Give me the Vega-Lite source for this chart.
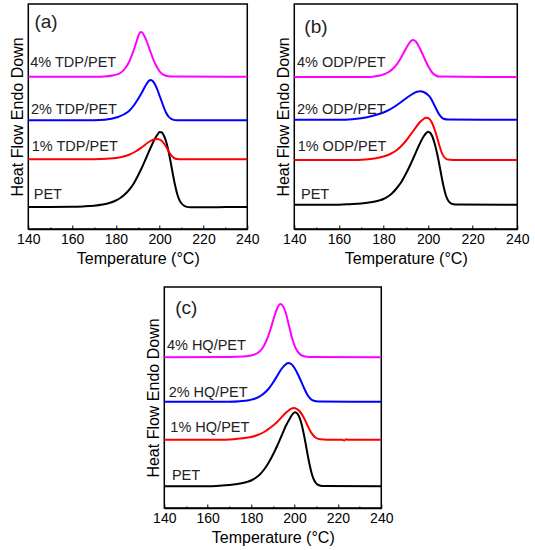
{
  "$schema": "https://vega.github.io/schema/vega-lite/v6.json",
  "padding": {"left": 8, "top": 3, "right": 5, "bottom": 5},
  "config": {
    "font": "Liberation Sans",
    "view": {"stroke": "black", "strokeWidth": 1.5},
    "axis": {
      "grid": false,
      "labelFontSize": 14,
      "titleFontSize": 16,
      "titleFontWeight": "normal",
      "labelColor": "black",
      "titleColor": "black",
      "domainColor": "black",
      "tickColor": "black"
    },
    "line": {"strokeWidth": 2, "interpolate": "monotone"},
    "text": {"color": "#222222"}
  },
  "datasets": {
    "curves": [
      {"panel": "a", "series": "PET", "T": 140, "y": 22},
      {"panel": "a", "series": "PET", "T": 150, "y": 22},
      {"panel": "a", "series": "PET", "T": 160, "y": 22.2},
      {"panel": "a", "series": "PET", "T": 165, "y": 22.6},
      {"panel": "a", "series": "PET", "T": 170, "y": 23.3},
      {"panel": "a", "series": "PET", "T": 174, "y": 24.5},
      {"panel": "a", "series": "PET", "T": 177, "y": 26},
      {"panel": "a", "series": "PET", "T": 180, "y": 28.5},
      {"panel": "a", "series": "PET", "T": 182, "y": 31},
      {"panel": "a", "series": "PET", "T": 184, "y": 34.5},
      {"panel": "a", "series": "PET", "T": 186, "y": 39},
      {"panel": "a", "series": "PET", "T": 188, "y": 45},
      {"panel": "a", "series": "PET", "T": 190, "y": 53},
      {"panel": "a", "series": "PET", "T": 192, "y": 62},
      {"panel": "a", "series": "PET", "T": 194, "y": 72},
      {"panel": "a", "series": "PET", "T": 196, "y": 82},
      {"panel": "a", "series": "PET", "T": 198, "y": 91},
      {"panel": "a", "series": "PET", "T": 199, "y": 94.5},
      {"panel": "a", "series": "PET", "T": 200, "y": 97},
      {"panel": "a", "series": "PET", "T": 201, "y": 96.5},
      {"panel": "a", "series": "PET", "T": 202, "y": 93},
      {"panel": "a", "series": "PET", "T": 203, "y": 87},
      {"panel": "a", "series": "PET", "T": 204, "y": 78},
      {"panel": "a", "series": "PET", "T": 205, "y": 67},
      {"panel": "a", "series": "PET", "T": 206, "y": 55},
      {"panel": "a", "series": "PET", "T": 207, "y": 44},
      {"panel": "a", "series": "PET", "T": 208, "y": 35},
      {"panel": "a", "series": "PET", "T": 209, "y": 29},
      {"panel": "a", "series": "PET", "T": 210, "y": 25.5},
      {"panel": "a", "series": "PET", "T": 211, "y": 23.5},
      {"panel": "a", "series": "PET", "T": 212, "y": 22.4},
      {"panel": "a", "series": "PET", "T": 214, "y": 21.8},
      {"panel": "a", "series": "PET", "T": 220, "y": 21.8},
      {"panel": "a", "series": "PET", "T": 230, "y": 21.9},
      {"panel": "a", "series": "PET", "T": 240, "y": 22},

      {"panel": "a", "series": "1%", "T": 140, "y": 69.7},
      {"panel": "a", "series": "1%", "T": 160, "y": 69.7},
      {"panel": "a", "series": "1%", "T": 170, "y": 69.8},
      {"panel": "a", "series": "1%", "T": 176, "y": 70.3},
      {"panel": "a", "series": "1%", "T": 180, "y": 71},
      {"panel": "a", "series": "1%", "T": 183, "y": 72.3},
      {"panel": "a", "series": "1%", "T": 186, "y": 74.3},
      {"panel": "a", "series": "1%", "T": 189, "y": 77.5},
      {"panel": "a", "series": "1%", "T": 192, "y": 82},
      {"panel": "a", "series": "1%", "T": 195, "y": 87},
      {"panel": "a", "series": "1%", "T": 197, "y": 89.3},
      {"panel": "a", "series": "1%", "T": 198.5, "y": 90},
      {"panel": "a", "series": "1%", "T": 200, "y": 89.3},
      {"panel": "a", "series": "1%", "T": 201, "y": 88},
      {"panel": "a", "series": "1%", "T": 202, "y": 85.5},
      {"panel": "a", "series": "1%", "T": 203, "y": 82},
      {"panel": "a", "series": "1%", "T": 204, "y": 78},
      {"panel": "a", "series": "1%", "T": 205, "y": 74.5},
      {"panel": "a", "series": "1%", "T": 206, "y": 72},
      {"panel": "a", "series": "1%", "T": 207, "y": 70.5},
      {"panel": "a", "series": "1%", "T": 208, "y": 69.9},
      {"panel": "a", "series": "1%", "T": 210, "y": 69.7},
      {"panel": "a", "series": "1%", "T": 240, "y": 69.7},

      {"panel": "a", "series": "2%", "T": 140, "y": 108.7},
      {"panel": "a", "series": "2%", "T": 160, "y": 108.7},
      {"panel": "a", "series": "2%", "T": 170, "y": 108.8},
      {"panel": "a", "series": "2%", "T": 175, "y": 109.3},
      {"panel": "a", "series": "2%", "T": 178, "y": 110.3},
      {"panel": "a", "series": "2%", "T": 181, "y": 112},
      {"panel": "a", "series": "2%", "T": 184, "y": 115},
      {"panel": "a", "series": "2%", "T": 186, "y": 118},
      {"panel": "a", "series": "2%", "T": 188, "y": 123},
      {"panel": "a", "series": "2%", "T": 190, "y": 129.5},
      {"panel": "a", "series": "2%", "T": 192, "y": 137},
      {"panel": "a", "series": "2%", "T": 194, "y": 145},
      {"panel": "a", "series": "2%", "T": 195, "y": 148},
      {"panel": "a", "series": "2%", "T": 196, "y": 149},
      {"panel": "a", "series": "2%", "T": 197, "y": 147.5},
      {"panel": "a", "series": "2%", "T": 198, "y": 144},
      {"panel": "a", "series": "2%", "T": 199, "y": 139},
      {"panel": "a", "series": "2%", "T": 200, "y": 133},
      {"panel": "a", "series": "2%", "T": 201, "y": 127},
      {"panel": "a", "series": "2%", "T": 202, "y": 121},
      {"panel": "a", "series": "2%", "T": 203, "y": 116},
      {"panel": "a", "series": "2%", "T": 204, "y": 112.5},
      {"panel": "a", "series": "2%", "T": 205, "y": 110.5},
      {"panel": "a", "series": "2%", "T": 206, "y": 109.4},
      {"panel": "a", "series": "2%", "T": 208, "y": 108.8},
      {"panel": "a", "series": "2%", "T": 240, "y": 108.7},

      {"panel": "a", "series": "4%", "T": 140, "y": 152.3},
      {"panel": "a", "series": "4%", "T": 170, "y": 152.3},
      {"panel": "a", "series": "4%", "T": 176, "y": 152.8},
      {"panel": "a", "series": "4%", "T": 179, "y": 153.8},
      {"panel": "a", "series": "4%", "T": 182, "y": 156},
      {"panel": "a", "series": "4%", "T": 184, "y": 160},
      {"panel": "a", "series": "4%", "T": 186, "y": 167},
      {"panel": "a", "series": "4%", "T": 188, "y": 178},
      {"panel": "a", "series": "4%", "T": 189.5, "y": 188},
      {"panel": "a", "series": "4%", "T": 190.5, "y": 194.5},
      {"panel": "a", "series": "4%", "T": 191.3, "y": 197},
      {"panel": "a", "series": "4%", "T": 192, "y": 196.5},
      {"panel": "a", "series": "4%", "T": 193, "y": 193},
      {"panel": "a", "series": "4%", "T": 194, "y": 188},
      {"panel": "a", "series": "4%", "T": 195, "y": 182},
      {"panel": "a", "series": "4%", "T": 196, "y": 176},
      {"panel": "a", "series": "4%", "T": 197, "y": 170},
      {"panel": "a", "series": "4%", "T": 198, "y": 165},
      {"panel": "a", "series": "4%", "T": 199, "y": 161},
      {"panel": "a", "series": "4%", "T": 200, "y": 157.5},
      {"panel": "a", "series": "4%", "T": 201, "y": 155.3},
      {"panel": "a", "series": "4%", "T": 202, "y": 154},
      {"panel": "a", "series": "4%", "T": 204, "y": 152.7},
      {"panel": "a", "series": "4%", "T": 206, "y": 152.4},
      {"panel": "a", "series": "4%", "T": 240, "y": 152.3},

      {"panel": "b", "series": "PET", "T": 140, "y": 24.3},
      {"panel": "b", "series": "PET", "T": 160, "y": 24.3},
      {"panel": "b", "series": "PET", "T": 165, "y": 24.8},
      {"panel": "b", "series": "PET", "T": 170, "y": 25.5},
      {"panel": "b", "series": "PET", "T": 175, "y": 27},
      {"panel": "b", "series": "PET", "T": 178, "y": 28.5},
      {"panel": "b", "series": "PET", "T": 180, "y": 30},
      {"panel": "b", "series": "PET", "T": 182, "y": 32.5},
      {"panel": "b", "series": "PET", "T": 184, "y": 36},
      {"panel": "b", "series": "PET", "T": 186, "y": 41},
      {"panel": "b", "series": "PET", "T": 188, "y": 47},
      {"panel": "b", "series": "PET", "T": 190, "y": 55},
      {"panel": "b", "series": "PET", "T": 192, "y": 64},
      {"panel": "b", "series": "PET", "T": 194, "y": 74},
      {"panel": "b", "series": "PET", "T": 196, "y": 84},
      {"panel": "b", "series": "PET", "T": 198, "y": 92.5},
      {"panel": "b", "series": "PET", "T": 199, "y": 95.5},
      {"panel": "b", "series": "PET", "T": 200, "y": 97.3},
      {"panel": "b", "series": "PET", "T": 201, "y": 96},
      {"panel": "b", "series": "PET", "T": 202, "y": 92},
      {"panel": "b", "series": "PET", "T": 203, "y": 85},
      {"panel": "b", "series": "PET", "T": 204, "y": 76},
      {"panel": "b", "series": "PET", "T": 205, "y": 65},
      {"panel": "b", "series": "PET", "T": 206, "y": 53},
      {"panel": "b", "series": "PET", "T": 207, "y": 42},
      {"panel": "b", "series": "PET", "T": 208, "y": 33.5},
      {"panel": "b", "series": "PET", "T": 209, "y": 28.5},
      {"panel": "b", "series": "PET", "T": 210, "y": 26},
      {"panel": "b", "series": "PET", "T": 211, "y": 25},
      {"panel": "b", "series": "PET", "T": 213, "y": 24.4},
      {"panel": "b", "series": "PET", "T": 240, "y": 24.3},

      {"panel": "b", "series": "1%", "T": 140, "y": 69},
      {"panel": "b", "series": "1%", "T": 165, "y": 69},
      {"panel": "b", "series": "1%", "T": 172, "y": 69.5},
      {"panel": "b", "series": "1%", "T": 176, "y": 70.5},
      {"panel": "b", "series": "1%", "T": 180, "y": 72.5},
      {"panel": "b", "series": "1%", "T": 183, "y": 75},
      {"panel": "b", "series": "1%", "T": 186, "y": 79},
      {"panel": "b", "series": "1%", "T": 188, "y": 83},
      {"panel": "b", "series": "1%", "T": 190, "y": 88},
      {"panel": "b", "series": "1%", "T": 192, "y": 94},
      {"panel": "b", "series": "1%", "T": 194, "y": 100},
      {"panel": "b", "series": "1%", "T": 196, "y": 106},
      {"panel": "b", "series": "1%", "T": 198, "y": 110},
      {"panel": "b", "series": "1%", "T": 199, "y": 111.3},
      {"panel": "b", "series": "1%", "T": 200, "y": 111},
      {"panel": "b", "series": "1%", "T": 201, "y": 109},
      {"panel": "b", "series": "1%", "T": 202, "y": 105},
      {"panel": "b", "series": "1%", "T": 203, "y": 99},
      {"panel": "b", "series": "1%", "T": 204, "y": 92},
      {"panel": "b", "series": "1%", "T": 205, "y": 84},
      {"panel": "b", "series": "1%", "T": 206, "y": 77},
      {"panel": "b", "series": "1%", "T": 207, "y": 72.5},
      {"panel": "b", "series": "1%", "T": 208, "y": 70.3},
      {"panel": "b", "series": "1%", "T": 209, "y": 69.4},
      {"panel": "b", "series": "1%", "T": 211, "y": 69},
      {"panel": "b", "series": "1%", "T": 240, "y": 69},

      {"panel": "b", "series": "2%", "T": 140, "y": 109.3},
      {"panel": "b", "series": "2%", "T": 160, "y": 109.3},
      {"panel": "b", "series": "2%", "T": 166, "y": 109.8},
      {"panel": "b", "series": "2%", "T": 170, "y": 110.8},
      {"panel": "b", "series": "2%", "T": 174, "y": 112.5},
      {"panel": "b", "series": "2%", "T": 178, "y": 115},
      {"panel": "b", "series": "2%", "T": 181, "y": 117.5},
      {"panel": "b", "series": "2%", "T": 184, "y": 121},
      {"panel": "b", "series": "2%", "T": 187, "y": 125.5},
      {"panel": "b", "series": "2%", "T": 190, "y": 130.5},
      {"panel": "b", "series": "2%", "T": 193, "y": 135},
      {"panel": "b", "series": "2%", "T": 195, "y": 137.2},
      {"panel": "b", "series": "2%", "T": 196.5, "y": 137.7},
      {"panel": "b", "series": "2%", "T": 198, "y": 137},
      {"panel": "b", "series": "2%", "T": 200, "y": 134},
      {"panel": "b", "series": "2%", "T": 201, "y": 131.5},
      {"panel": "b", "series": "2%", "T": 202, "y": 127.5},
      {"panel": "b", "series": "2%", "T": 203, "y": 123},
      {"panel": "b", "series": "2%", "T": 204, "y": 118.5},
      {"panel": "b", "series": "2%", "T": 205, "y": 114.5},
      {"panel": "b", "series": "2%", "T": 206, "y": 111.8},
      {"panel": "b", "series": "2%", "T": 207, "y": 110.2},
      {"panel": "b", "series": "2%", "T": 209, "y": 109.4},
      {"panel": "b", "series": "2%", "T": 240, "y": 109.3},

      {"panel": "b", "series": "4%", "T": 140, "y": 152},
      {"panel": "b", "series": "4%", "T": 172, "y": 152},
      {"panel": "b", "series": "4%", "T": 176, "y": 152.6},
      {"panel": "b", "series": "4%", "T": 179, "y": 153.8},
      {"panel": "b", "series": "4%", "T": 182, "y": 156.5},
      {"panel": "b", "series": "4%", "T": 185, "y": 162},
      {"panel": "b", "series": "4%", "T": 187, "y": 168},
      {"panel": "b", "series": "4%", "T": 189, "y": 176},
      {"panel": "b", "series": "4%", "T": 191, "y": 184},
      {"panel": "b", "series": "4%", "T": 192.3, "y": 188},
      {"panel": "b", "series": "4%", "T": 193.3, "y": 189},
      {"panel": "b", "series": "4%", "T": 194.5, "y": 187.5},
      {"panel": "b", "series": "4%", "T": 196, "y": 182},
      {"panel": "b", "series": "4%", "T": 197.5, "y": 175},
      {"panel": "b", "series": "4%", "T": 199, "y": 167.5},
      {"panel": "b", "series": "4%", "T": 200.5, "y": 161},
      {"panel": "b", "series": "4%", "T": 202, "y": 156},
      {"panel": "b", "series": "4%", "T": 203.5, "y": 153.5},
      {"panel": "b", "series": "4%", "T": 205, "y": 152.4},
      {"panel": "b", "series": "4%", "T": 240, "y": 152},

      {"panel": "c", "series": "PET", "T": 140, "y": 21.7},
      {"panel": "c", "series": "PET", "T": 160, "y": 21.7},
      {"panel": "c", "series": "PET", "T": 165, "y": 22.2},
      {"panel": "c", "series": "PET", "T": 170, "y": 23},
      {"panel": "c", "series": "PET", "T": 175, "y": 24.5},
      {"panel": "c", "series": "PET", "T": 178, "y": 26},
      {"panel": "c", "series": "PET", "T": 180, "y": 27.5},
      {"panel": "c", "series": "PET", "T": 182, "y": 30},
      {"panel": "c", "series": "PET", "T": 184, "y": 33.5},
      {"panel": "c", "series": "PET", "T": 186, "y": 38.5},
      {"panel": "c", "series": "PET", "T": 188, "y": 45},
      {"panel": "c", "series": "PET", "T": 190, "y": 53},
      {"panel": "c", "series": "PET", "T": 192, "y": 62},
      {"panel": "c", "series": "PET", "T": 194, "y": 72},
      {"panel": "c", "series": "PET", "T": 196, "y": 82},
      {"panel": "c", "series": "PET", "T": 198, "y": 90},
      {"panel": "c", "series": "PET", "T": 199, "y": 93.5},
      {"panel": "c", "series": "PET", "T": 200.2, "y": 95.7},
      {"panel": "c", "series": "PET", "T": 201, "y": 95},
      {"panel": "c", "series": "PET", "T": 202, "y": 92},
      {"panel": "c", "series": "PET", "T": 203, "y": 86},
      {"panel": "c", "series": "PET", "T": 204, "y": 77},
      {"panel": "c", "series": "PET", "T": 205, "y": 66},
      {"panel": "c", "series": "PET", "T": 206, "y": 54},
      {"panel": "c", "series": "PET", "T": 207, "y": 43},
      {"panel": "c", "series": "PET", "T": 208, "y": 34},
      {"panel": "c", "series": "PET", "T": 209, "y": 28},
      {"panel": "c", "series": "PET", "T": 210, "y": 24.7},
      {"panel": "c", "series": "PET", "T": 211, "y": 23},
      {"panel": "c", "series": "PET", "T": 213, "y": 22},
      {"panel": "c", "series": "PET", "T": 240, "y": 21.7},

      {"panel": "c", "series": "1%", "T": 140, "y": 68.3},
      {"panel": "c", "series": "1%", "T": 165, "y": 68.3},
      {"panel": "c", "series": "1%", "T": 172, "y": 68.8},
      {"panel": "c", "series": "1%", "T": 176, "y": 69.7},
      {"panel": "c", "series": "1%", "T": 180, "y": 71},
      {"panel": "c", "series": "1%", "T": 183, "y": 73},
      {"panel": "c", "series": "1%", "T": 186, "y": 76},
      {"panel": "c", "series": "1%", "T": 189, "y": 80.5},
      {"panel": "c", "series": "1%", "T": 192, "y": 86},
      {"panel": "c", "series": "1%", "T": 195, "y": 93},
      {"panel": "c", "series": "1%", "T": 197, "y": 97},
      {"panel": "c", "series": "1%", "T": 198.5, "y": 99.3},
      {"panel": "c", "series": "1%", "T": 199.7, "y": 100},
      {"panel": "c", "series": "1%", "T": 201, "y": 99.2},
      {"panel": "c", "series": "1%", "T": 202.5, "y": 96.5},
      {"panel": "c", "series": "1%", "T": 204, "y": 91.5},
      {"panel": "c", "series": "1%", "T": 205.5, "y": 85},
      {"panel": "c", "series": "1%", "T": 207, "y": 78},
      {"panel": "c", "series": "1%", "T": 208.5, "y": 73},
      {"panel": "c", "series": "1%", "T": 210, "y": 70},
      {"panel": "c", "series": "1%", "T": 212, "y": 68.7},
      {"panel": "c", "series": "1%", "T": 215, "y": 68.3},
      {"panel": "c", "series": "1%", "T": 222, "y": 68.3},
      {"panel": "c", "series": "1%", "T": 223, "y": 67.6},
      {"panel": "c", "series": "1%", "T": 223.7, "y": 68.7},
      {"panel": "c", "series": "1%", "T": 224.5, "y": 68.3},
      {"panel": "c", "series": "1%", "T": 240, "y": 68.3},

      {"panel": "c", "series": "2%", "T": 140, "y": 106.3},
      {"panel": "c", "series": "2%", "T": 170, "y": 106.3},
      {"panel": "c", "series": "2%", "T": 175, "y": 106.8},
      {"panel": "c", "series": "2%", "T": 179, "y": 107.8},
      {"panel": "c", "series": "2%", "T": 182, "y": 109.5},
      {"panel": "c", "series": "2%", "T": 185, "y": 113},
      {"panel": "c", "series": "2%", "T": 188, "y": 119},
      {"panel": "c", "series": "2%", "T": 190, "y": 125},
      {"panel": "c", "series": "2%", "T": 192, "y": 132},
      {"panel": "c", "series": "2%", "T": 194, "y": 139},
      {"panel": "c", "series": "2%", "T": 195.5, "y": 142.8},
      {"panel": "c", "series": "2%", "T": 197.1, "y": 145},
      {"panel": "c", "series": "2%", "T": 198.5, "y": 144},
      {"panel": "c", "series": "2%", "T": 200, "y": 140},
      {"panel": "c", "series": "2%", "T": 201.5, "y": 134},
      {"panel": "c", "series": "2%", "T": 203, "y": 127},
      {"panel": "c", "series": "2%", "T": 204.5, "y": 119.5},
      {"panel": "c", "series": "2%", "T": 206, "y": 113},
      {"panel": "c", "series": "2%", "T": 207.5, "y": 109},
      {"panel": "c", "series": "2%", "T": 209, "y": 107.2},
      {"panel": "c", "series": "2%", "T": 211, "y": 106.5},
      {"panel": "c", "series": "2%", "T": 240, "y": 106.3},

      {"panel": "c", "series": "4%", "T": 140, "y": 150.7},
      {"panel": "c", "series": "4%", "T": 170, "y": 151},
      {"panel": "c", "series": "4%", "T": 176, "y": 151.5},
      {"panel": "c", "series": "4%", "T": 180, "y": 152.5},
      {"panel": "c", "series": "4%", "T": 183, "y": 155},
      {"panel": "c", "series": "4%", "T": 185, "y": 159},
      {"panel": "c", "series": "4%", "T": 187, "y": 167},
      {"panel": "c", "series": "4%", "T": 189, "y": 179},
      {"panel": "c", "series": "4%", "T": 190.5, "y": 190},
      {"panel": "c", "series": "4%", "T": 192, "y": 199.5},
      {"panel": "c", "series": "4%", "T": 193.5, "y": 204},
      {"panel": "c", "series": "4%", "T": 194.5, "y": 202.5},
      {"panel": "c", "series": "4%", "T": 196, "y": 195},
      {"panel": "c", "series": "4%", "T": 197.5, "y": 182},
      {"panel": "c", "series": "4%", "T": 199, "y": 169},
      {"panel": "c", "series": "4%", "T": 200.5, "y": 160},
      {"panel": "c", "series": "4%", "T": 202, "y": 155},
      {"panel": "c", "series": "4%", "T": 204, "y": 152},
      {"panel": "c", "series": "4%", "T": 207, "y": 151},
      {"panel": "c", "series": "4%", "T": 240, "y": 150.7}
    ],
    "labels": [
      {"panel": "a", "kind": "curve", "label": "4% TDP/PET", "T": 140.9, "y": 161.7},
      {"panel": "a", "kind": "curve", "label": "2% TDP/PET", "T": 141.2, "y": 115},
      {"panel": "a", "kind": "curve", "label": "1% TDP/PET", "T": 141.6, "y": 78.3},
      {"panel": "a", "kind": "curve", "label": "PET", "T": 142.5, "y": 30},
      {"panel": "a", "kind": "panel", "label": "(a)", "T": 142.8, "y": 206.7},
      {"panel": "b", "kind": "curve", "label": "4% ODP/PET", "T": 141.2, "y": 161.7},
      {"panel": "b", "kind": "curve", "label": "2% ODP/PET", "T": 141.2, "y": 115},
      {"panel": "b", "kind": "curve", "label": "1% ODP/PET", "T": 141.5, "y": 78.3},
      {"panel": "b", "kind": "curve", "label": "PET", "T": 143, "y": 30},
      {"panel": "b", "kind": "panel", "label": "(b)", "T": 144.5, "y": 201.7},
      {"panel": "c", "kind": "curve", "label": "4% HQ/PET", "T": 141.2, "y": 158.3},
      {"panel": "c", "kind": "curve", "label": "2% HQ/PET", "T": 142, "y": 111},
      {"panel": "c", "kind": "curve", "label": "1% HQ/PET", "T": 142.8, "y": 75.7},
      {"panel": "c", "kind": "curve", "label": "PET", "T": 143.5, "y": 27.7},
      {"panel": "c", "kind": "panel", "label": "(c)", "T": 145, "y": 200}
    ]
  },
  "vconcat": [
    {
      "hconcat": [
        {
          "width": 219,
          "height": 225,
          "encoding": {
            "x": {
              "field": "T",
              "type": "quantitative",
              "title": "Temperature (°C)",
              "scale": {"domain": [140, 240], "nice": false},
              "axis": {
                "values": [140, 150, 160, 170, 180, 190, 200, 210, 220, 230, 240],
                "labelExpr": "datum.value % 20 === 0 ? datum.label : ''",
                "tickSize": {"condition": {"test": "datum.value % 20 === 0", "value": -4}, "value": -2},
                "labelOverlap": false,
                "labelFlush": false,
                "labelPadding": 7,
                "titlePadding": 2,
                "domainWidth": 1.5
              }
            },
            "y": {
              "field": "y",
              "type": "quantitative",
              "title": "Heat Flow Endo Down",
              "scale": {"domain": [0, 225], "nice": false},
              "axis": {"ticks": false, "labels": false, "domain": false, "titlePadding": 3}
            }
          },
          "layer": [
            {
              "data": {"name": "curves"},
              "transform": [{"filter": "datum.panel === 'a'"}],
              "mark": {"type": "line"},
              "encoding": {
                "color": {
                  "field": "series",
                  "type": "nominal",
                  "scale": {"domain": ["PET", "1%", "2%", "4%"], "range": ["#000000", "#ff0000", "#0000ff", "#ff00ff"]},
                  "legend": null
                }
              }
            },
            {
              "data": {"name": "labels"},
              "transform": [{"filter": "datum.panel === 'a' && datum.kind === 'curve'"}],
              "mark": {"type": "text", "align": "left", "baseline": "alphabetic", "fontSize": 14.5},
              "encoding": {"text": {"field": "label"}}
            },
            {
              "data": {"name": "labels"},
              "transform": [{"filter": "datum.panel === 'a' && datum.kind === 'panel'"}],
              "mark": {"type": "text", "align": "left", "baseline": "middle", "fontSize": 19},
              "encoding": {"text": {"field": "label"}}
            }
          ]
        },
        {
          "width": 223,
          "height": 225,
          "encoding": {
            "x": {
              "field": "T",
              "type": "quantitative",
              "title": "Temperature (°C)",
              "scale": {"domain": [140, 240], "nice": false},
              "axis": {
                "values": [140, 150, 160, 170, 180, 190, 200, 210, 220, 230, 240],
                "labelExpr": "datum.value % 20 === 0 ? datum.label : ''",
                "tickSize": {"condition": {"test": "datum.value % 20 === 0", "value": -4}, "value": -2},
                "labelOverlap": false,
                "labelFlush": false,
                "labelPadding": 7,
                "titlePadding": 2,
                "domainWidth": 1.5
              }
            },
            "y": {
              "field": "y",
              "type": "quantitative",
              "title": "Heat Flow Endo Down",
              "scale": {"domain": [0, 225], "nice": false},
              "axis": {"ticks": false, "labels": false, "domain": false, "titlePadding": 3}
            }
          },
          "layer": [
            {
              "data": {"name": "curves"},
              "transform": [{"filter": "datum.panel === 'b'"}],
              "mark": {"type": "line"},
              "encoding": {
                "color": {
                  "field": "series",
                  "type": "nominal",
                  "scale": {"domain": ["PET", "1%", "2%", "4%"], "range": ["#000000", "#ff0000", "#0000ff", "#ff00ff"]},
                  "legend": null
                }
              }
            },
            {
              "data": {"name": "labels"},
              "transform": [{"filter": "datum.panel === 'b' && datum.kind === 'curve'"}],
              "mark": {"type": "text", "align": "left", "baseline": "alphabetic", "fontSize": 14.5},
              "encoding": {"text": {"field": "label"}}
            },
            {
              "data": {"name": "labels"},
              "transform": [{"filter": "datum.panel === 'b' && datum.kind === 'panel'"}],
              "mark": {"type": "text", "align": "left", "baseline": "middle", "fontSize": 19},
              "encoding": {"text": {"field": "label"}}
            }
          ]
        }
      ],
      "spacing": 14
    },
    {
      "width": 217,
      "height": 221,
      "encoding": {
        "x": {
          "field": "T",
          "type": "quantitative",
          "title": "Temperature (°C)",
          "scale": {"domain": [140, 240], "nice": false},
          "axis": {
            "values": [140, 150, 160, 170, 180, 190, 200, 210, 220, 230, 240],
            "labelExpr": "datum.value % 20 === 0 ? datum.label : ''",
            "tickSize": {"condition": {"test": "datum.value % 20 === 0", "value": -4}, "value": -2},
            "labelOverlap": false,
            "labelFlush": false,
            "labelPadding": 7,
            "titlePadding": 2,
            "domainWidth": 1.5
          }
        },
        "y": {
          "field": "y",
          "type": "quantitative",
          "title": "Heat Flow Endo Down",
          "scale": {"domain": [0, 221], "nice": false},
          "axis": {"ticks": false, "labels": false, "domain": false, "titlePadding": 3}
        }
      },
      "layer": [
        {
          "data": {"name": "curves"},
          "transform": [{"filter": "datum.panel === 'c'"}],
          "mark": {"type": "line"},
          "encoding": {
            "color": {
              "field": "series",
              "type": "nominal",
              "scale": {"domain": ["PET", "1%", "2%", "4%"], "range": ["#000000", "#ff0000", "#0000ff", "#ff00ff"]},
              "legend": null
            }
          }
        },
        {
          "data": {"name": "labels"},
          "transform": [{"filter": "datum.panel === 'c' && datum.kind === 'curve'"}],
          "mark": {"type": "text", "align": "left", "baseline": "alphabetic", "fontSize": 14.5},
          "encoding": {"text": {"field": "label"}}
        },
        {
          "data": {"name": "labels"},
          "transform": [{"filter": "datum.panel === 'c' && datum.kind === 'panel'"}],
          "mark": {"type": "text", "align": "left", "baseline": "middle", "fontSize": 19},
          "encoding": {"text": {"field": "label"}}
        }
      ]
    }
  ],
  "spacing": 19,
  "center": true
}
